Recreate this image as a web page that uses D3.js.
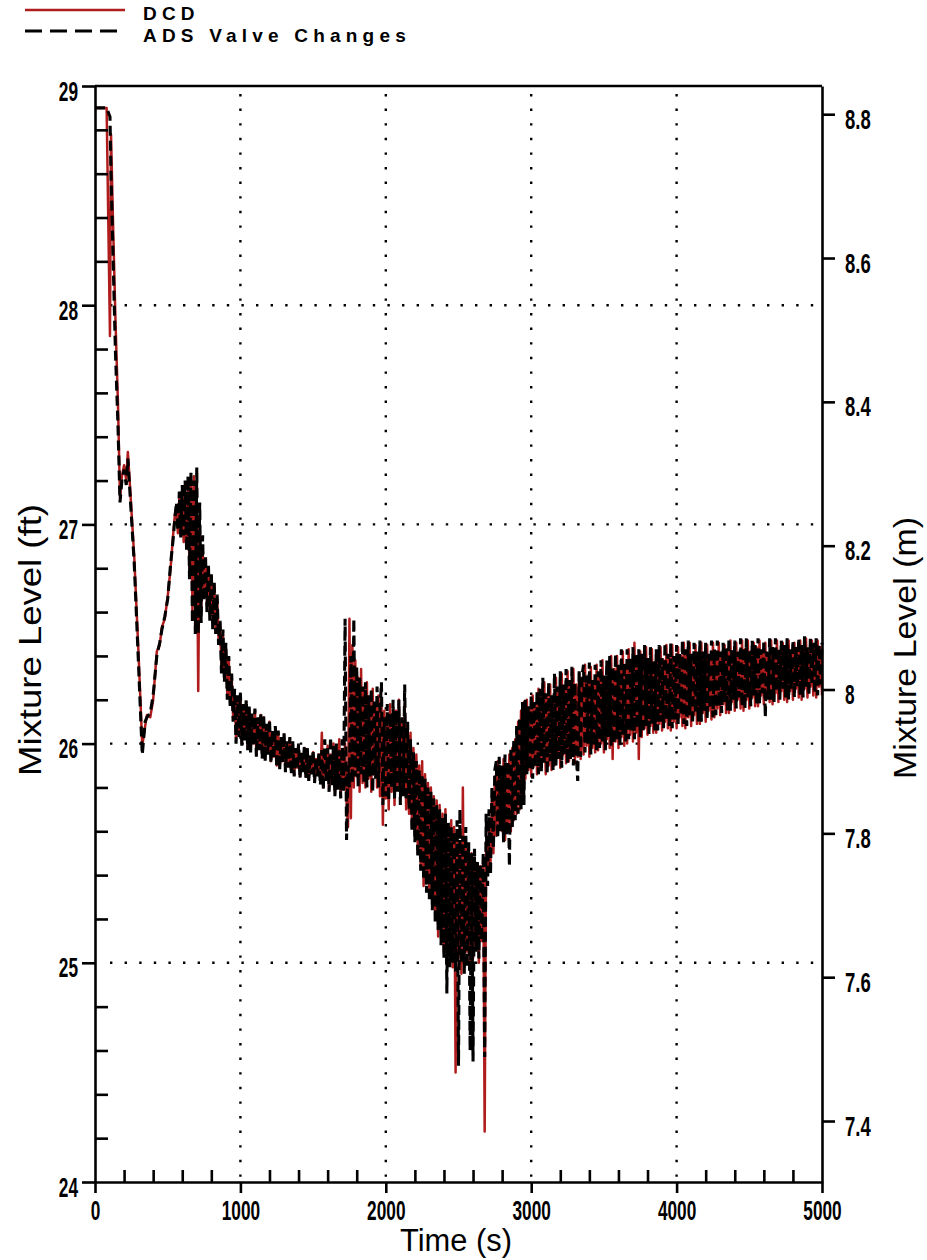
<!DOCTYPE html>
<html>
<head>
<meta charset="utf-8">
<script src="https://cdn.jsdelivr.net/npm/d3@7"></script>
<style>
  body { margin: 0; background: #fff; }
  svg { display: block; }
  .title { font-family: "Liberation Sans", Arial, sans-serif; font-size: 31px; fill: #000; }
  .legend { font-family: "Liberation Sans", Arial, sans-serif; font-weight: bold; font-size: 19px; letter-spacing: 5.2px; fill: #000; }
</style>
</head>
<body>
<div id="chart"></div>
<script>
// axis ticks
const ftMajor = [24, 25, 26, 27, 28, 29];
const ftMinor = [24.2, 24.4, 24.6, 24.8, 25.2, 25.4, 25.6, 25.8, 26.2, 26.4, 26.6, 26.8,
                 27.2, 27.4, 27.6, 27.8, 28.2, 28.4, 28.6, 28.8];
const mTicks = [7.4, 7.6, 7.8, 8, 8.2, 8.4, 8.6, 8.8];
const timeMajor = [0, 1000, 2000, 3000, 4000, 5000];
const timeMinor = [200, 400, 600, 800, 1200, 1400, 1600, 1800, 2200, 2400, 2600, 2800,
                   3200, 3400, 3600, 3800, 4200, 4400, 4600, 4800];
const gridTime = [1000, 2000, 3000, 4000];
const gridFt = [25, 26, 27, 28];

// early transient (s)
const earlyTime = [0, 80, 103, 110, 125, 140, 158, 172, 185, 200, 215, 226, 240, 270, 300,
                   325, 345, 357, 380, 400, 425, 445, 460, 480, 500, 520, 537, 550,
                   560, 570, 580, 590, 600, 610, 620, 630, 640, 650,
                   660, 670, 680, 690, 700, 710, 720, 730, 740, 750];
const dcdEarly = [28.9, 28.9, 27.86, 28.78, 28.35, 27.95, 27.55, 27.12, 27.22, 27.27, 27.2, 27.33, 27.18, 26.85, 26.4,
                  25.99, 26.08, 26.13, 26.12, 26.2, 26.42, 26.45, 26.53, 26.57, 26.67, 26.8, 26.95, 27.05,
                  27.08, 26.96, 27.12, 26.95, 27.15, 26.92, 27.14, 26.90, 27.18, 26.80,
                  27.20, 26.60, 27.22, 26.55, 27.10, 26.24, 27.00, 26.60, 26.90, 26.70];
const adsEarly = [28.9, 28.9, 28.86, 28.6, 28.2, 27.8, 27.45, 27.1, 27.2, 27.25, 27.18, 27.3, 27.15, 26.82, 26.35,
                  25.95, 26.1, 26.12, 26.14, 26.22, 26.4, 26.46, 26.52, 26.58, 26.66, 26.82, 26.93, 27.03,
                  27.10, 26.97, 27.15, 26.94, 27.18, 26.95, 27.20, 26.88, 27.22, 26.75,
                  27.24, 26.55, 27.20, 26.50, 27.26, 26.50, 27.10, 26.55, 26.95, 26.65];

// oscillating part, one value every 10 s from 760 s (each row = 100 s)
const noisyStart = 760, noisyStep = 10;
const dcdNoisy = [
  26.84, 26.64, 26.80, 26.60, 26.76, 26.55, 26.72, 26.52, 26.66, 26.48,
  26.55, 26.35, 26.50, 26.30, 26.44, 26.22, 26.38, 26.18, 26.30, 26.12,
  26.24, 26.02, 26.20, 26.05, 26.22, 26.00, 26.16, 26.03, 26.19, 25.98,
  26.16, 25.97, 26.12, 26.00, 26.15, 25.95, 26.10, 25.98, 26.13, 25.94,
  26.12, 25.93, 26.08, 25.96, 26.10, 25.92, 26.05, 25.94, 26.07, 25.90,
  26.05, 25.89, 26.02, 25.92, 26.04, 25.88, 26.00, 25.90, 26.02, 25.87,
  26.00, 25.86, 25.97, 25.89, 25.99, 25.85, 25.95, 25.88, 25.98, 25.85,
  25.97, 25.84, 25.94, 25.87, 25.96, 25.83, 25.93, 25.86, 25.95, 25.82,
  26.05, 25.80, 25.96, 25.84, 25.99, 25.79, 25.95, 25.82, 26.00, 25.77,
  25.98, 25.80, 26.02, 25.76, 25.96, 25.80, 26.00, 25.74, 25.62, 26.57,
  25.66, 26.45, 25.80, 26.38, 25.85, 26.30, 25.78, 26.34, 25.82, 26.25,
  25.80, 26.28, 25.84, 26.20, 25.78, 26.25, 25.86, 26.18, 25.80, 26.22,
  25.76, 26.20, 25.63, 26.15, 25.75, 26.10, 25.70, 26.18, 25.78, 26.12,
  25.72, 26.15, 25.80, 26.20, 25.74, 26.10, 25.78, 26.18, 25.70, 26.08,
  25.68, 26.05, 25.62, 25.98, 25.58, 25.95, 25.52, 25.90, 25.45, 25.92,
  25.35, 25.86, 25.40, 25.82, 25.30, 25.80, 25.28, 25.76, 25.22, 25.74,
  25.12, 25.72, 25.18, 25.68, 25.05, 25.70, 25.00, 25.62, 25.08, 25.65,
  24.98, 25.62, 24.50, 25.58, 25.02, 25.55, 24.95, 25.80, 25.00, 25.55,
  25.05, 25.52, 24.98, 25.50, 25.02, 25.48, 25.06, 25.45, 25.00, 25.44,
  25.10, 25.47, 24.23, 25.55, 25.40, 25.62, 25.45, 25.75, 25.50, 25.85,
  25.58, 25.92, 25.62, 25.88, 25.60, 25.93, 25.56, 25.90, 25.62, 25.95,
  25.60, 25.98, 25.65, 26.02, 25.68, 26.10, 25.70, 26.15, 25.74, 26.19,
  25.84, 26.20, 25.88, 26.16, 25.85, 26.22, 25.90, 26.18, 25.86, 26.25,
  25.88, 26.24, 25.92, 26.28, 25.86, 26.22, 25.90, 26.27, 25.88, 26.20,
  25.90, 26.30, 25.94, 26.25, 25.89, 26.32, 25.95, 26.26, 25.91, 26.33,
  25.92, 26.28, 25.96, 26.34, 25.91, 26.27, 25.94, 26.32, 25.93, 26.30,
  25.95, 26.36, 25.99, 26.30, 25.94, 26.35, 25.98, 26.28, 25.96, 26.36,
  25.97, 26.32, 26.00, 26.38, 25.96, 26.30, 26.02, 26.37, 25.98, 26.40,
  25.93, 26.34, 26.01, 26.40, 25.98, 26.35, 26.03, 26.42, 25.99, 26.36,
  26.00, 26.43, 26.04, 26.38, 26.01, 26.46, 26.05, 26.40, 25.93, 26.42,
  26.03, 26.40, 26.07, 26.44, 26.04, 26.38, 26.08, 26.43, 26.05, 26.37,
  26.05, 26.42, 26.09, 26.44, 26.06, 26.38, 26.10, 26.45, 26.07, 26.40,
  26.06, 26.45, 26.10, 26.39, 26.07, 26.44, 26.12, 26.40, 26.08, 26.46,
  26.07, 26.42, 26.12, 26.46, 26.08, 26.40, 26.13, 26.45, 26.09, 26.41,
  26.09, 26.46, 26.14, 26.41, 26.10, 26.45, 26.15, 26.40, 26.11, 26.46,
  26.12, 26.42, 26.16, 26.46, 26.13, 26.41, 26.18, 26.45, 26.14, 26.43,
  26.14, 26.47, 26.19, 26.42, 26.15, 26.46, 26.20, 26.41, 26.16, 26.47,
  26.15, 26.43, 26.20, 26.47, 26.16, 26.42, 26.21, 26.46, 26.17, 26.44,
  26.17, 26.47, 26.22, 26.42, 26.18, 26.46, 26.23, 26.41, 26.19, 26.47,
  26.18, 26.43, 26.23, 26.47, 26.19, 26.42, 26.24, 26.46, 26.20, 26.44,
  26.19, 26.47, 26.24, 26.42, 26.20, 26.46, 26.25, 26.43, 26.21, 26.47,
  26.20, 26.44, 26.25, 26.48, 26.21, 26.43, 26.26, 26.47, 26.22, 26.45,
  26.21, 26.47, 26.26, 26.44, 26.22
];
const adsNoisy = [
  26.86, 26.60, 26.82, 26.56, 26.78, 26.52, 26.74, 26.50, 26.68, 26.45,
  26.56, 26.32, 26.52, 26.28, 26.46, 26.20, 26.40, 26.16, 26.32, 26.10,
  26.25, 26.00, 26.22, 26.03, 26.23, 25.99, 26.18, 26.01, 26.20, 25.97,
  26.17, 25.96, 26.14, 25.99, 26.16, 25.94, 26.12, 25.97, 26.14, 25.93,
  26.13, 25.92, 26.09, 25.95, 26.11, 25.91, 26.06, 25.93, 26.08, 25.89,
  26.06, 25.88, 26.03, 25.91, 26.05, 25.87, 26.01, 25.89, 26.03, 25.86,
  26.01, 25.85, 25.98, 25.88, 26.00, 25.84, 25.96, 25.87, 25.99, 25.84,
  25.98, 25.83, 25.95, 25.86, 25.97, 25.82, 25.94, 25.85, 25.96, 25.81,
  25.97, 25.79, 26.02, 25.83, 25.98, 25.78, 26.03, 25.81, 25.99, 25.76,
  26.00, 25.79, 25.97, 25.75, 26.02, 25.78, 26.57, 25.56, 25.90, 25.80,
  26.40, 25.82, 26.57, 25.85, 26.35, 25.80, 26.30, 25.86, 26.26, 25.82,
  26.28, 25.80, 26.22, 25.85, 26.25, 25.78, 26.20, 25.84, 26.26, 25.80,
  26.15, 26.28, 25.72, 26.12, 25.76, 26.18, 25.74, 26.14, 25.80, 26.20,
  25.75, 26.15, 25.78, 26.20, 25.72, 26.12, 25.76, 26.27, 25.74, 26.10,
  25.70, 26.02, 25.60, 25.96, 25.55, 25.92, 25.48, 25.88, 25.42, 25.86,
  25.38, 25.84, 25.32, 25.80, 25.28, 25.78, 25.24, 25.75, 25.18, 25.72,
  25.15, 25.70, 25.08, 25.66, 25.02, 25.68, 24.86, 25.64, 24.98, 25.62,
  25.00, 25.60, 24.96, 25.65, 24.53, 25.70, 25.00, 25.58, 24.95, 25.62,
  24.98, 25.55, 24.60, 25.50, 24.55, 25.52, 25.05, 25.46, 25.02, 25.45,
  25.10, 25.50, 24.57, 25.68, 25.35, 25.70, 25.40, 25.80, 25.52, 25.88,
  25.92, 25.57, 25.94, 25.60, 25.90, 25.55, 25.95, 25.58, 25.92, 25.44,
  25.98, 25.62, 26.02, 25.65, 26.08, 25.68, 26.12, 25.70, 26.19, 25.72,
  26.20, 25.86, 26.17, 25.88, 26.22, 25.84, 26.19, 25.89, 26.24, 25.86,
  26.25, 25.87, 26.30, 25.91, 26.23, 25.86, 26.28, 25.92, 26.22, 25.88,
  26.32, 25.90, 26.26, 25.93, 26.33, 25.89, 26.27, 25.95, 26.34, 25.91,
  26.29, 25.93, 26.35, 25.90, 26.28, 25.95, 25.83, 26.33, 25.94, 26.31,
  26.36, 25.96, 26.31, 26.00, 26.37, 25.95, 26.29, 25.99, 26.36, 25.97,
  26.33, 25.98, 26.38, 26.01, 26.31, 25.97, 26.38, 26.03, 26.40, 25.99,
  26.35, 26.00, 26.41, 26.02, 26.36, 25.99, 26.43, 26.04, 26.37, 26.01,
  26.43, 26.02, 26.39, 26.06, 26.44, 26.02, 26.41, 26.07, 26.43, 26.03,
  26.41, 26.05, 26.45, 26.08, 26.39, 26.04, 26.44, 26.09, 26.38, 26.06,
  26.43, 26.06, 26.45, 26.10, 26.39, 26.07, 26.46, 26.11, 26.41, 26.08,
  26.46, 26.07, 26.40, 26.11, 26.45, 26.08, 26.41, 26.13, 26.47, 26.09,
  26.43, 26.08, 26.47, 26.13, 26.41, 26.09, 26.46, 26.14, 26.42, 26.10,
  26.47, 26.10, 26.42, 26.15, 26.46, 26.11, 26.41, 26.16, 26.47, 26.12,
  26.43, 26.13, 26.47, 26.17, 26.42, 26.14, 26.46, 26.19, 26.44, 26.15,
  26.48, 26.15, 26.43, 26.20, 26.47, 26.16, 26.42, 26.21, 26.48, 26.17,
  26.44, 26.16, 26.48, 26.21, 26.43, 26.17, 26.47, 26.22, 26.45, 26.18,
  26.48, 26.18, 26.43, 26.23, 26.47, 26.12, 26.42, 26.20, 26.48, 26.19,
  26.44, 26.19, 26.48, 26.24, 26.43, 26.20, 26.47, 26.25, 26.45, 26.21,
  26.48, 26.20, 26.43, 26.25, 26.47, 26.21, 26.44, 26.26, 26.48, 26.22,
  26.45, 26.21, 26.49, 26.26, 26.44, 26.22, 26.48, 26.27, 26.46, 26.23,
  26.48, 26.22, 26.45, 26.27, 26.46
];

const FT_TO_M = 0.3048;
const width = 927, height = 1260;

const x = d3.scaleLinear().domain([0, 5000]).range([95, 822]);
const y = d3.scaleLinear().domain([24, 29]).range([1182, 86]);
const yM = d3.scaleLinear().domain([24 * FT_TO_M, 29 * FT_TO_M]).range([1182, 86]);

function toPoints(early, noisy) {
    let pts = earlyTime.map((t, i) => ({ t: t, v: early[i] }));
    noisy.forEach((v, i) => pts.push({ t: noisyStart + i * noisyStep, v: v }));
    return pts;
}

// bold labels squeezed to the narrow look of the original
function narrowLabels(g) {
    g.selectAll(".tick text").each(function() {
        let s = this.textContent;
        if (!s) return;
        let digits = s.replace(/[^0-9]/g, "").length;
        let dots = s.length - digits;
        d3.select(this)
            .style("font-family", '"Liberation Sans", Arial, sans-serif')
            .style("font-weight", "bold")
            .style("font-size", "28px")
            .attr("fill", "#000")
            .attr("textLength", digits * 9.6 + dots * 6.5)
            .attr("lengthAdjust", "spacingAndGlyphs");
    });
}

let svg = d3.select("#chart").append("svg")
    .attr("width", width)
    .attr("height", height);

svg.append("rect").attr("width", width).attr("height", height).attr("fill", "#fff");

// dotted grid
svg.append("g").selectAll("line")
    .data(gridTime)
    .enter()
    .append("line")
    .attr("x1", d => x(d)).attr("x2", d => x(d))
    .attr("y1", y(29) + 8).attr("y2", y(24))
    .attr("stroke", "#000").attr("stroke-width", 2.4)
    .attr("stroke-dasharray", "2.4,12.2");

svg.append("g").selectAll("line")
    .data(gridFt)
    .enter()
    .append("line")
    .attr("x1", x(0) + 15).attr("x2", x(5000))
    .attr("y1", d => y(d)).attr("y2", d => y(d))
    .attr("stroke", "#000").attr("stroke-width", 2.4)
    .attr("stroke-dasharray", "2.4,12.2");

// data lines
let line = d3.line().x(d => x(d.t)).y(d => y(d.v));

svg.append("path")
    .datum(toPoints(dcdEarly, dcdNoisy))
    .attr("d", line)
    .attr("fill", "none")
    .attr("stroke", "#b01c1c")
    .attr("stroke-width", 2.5)
    .attr("stroke-linejoin", "round");

svg.append("path")
    .datum(toPoints(adsEarly, adsNoisy))
    .attr("d", line)
    .attr("fill", "none")
    .attr("stroke", "#000")
    .attr("stroke-width", 3.1)
    .attr("stroke-dasharray", "10,5");

// axes
function styleAxis(g) {
    g.selectAll(".domain").attr("stroke", "#000").attr("stroke-width", 2.6);
    g.selectAll(".tick line").attr("stroke", "#000").attr("stroke-width", 2.6);
}

svg.append("g")
    .attr("transform", `translate(${x(0)},0)`)
    .call(d3.axisLeft(y).tickValues(ftMajor).tickSize(13).tickSizeOuter(0).tickPadding(4)
        .tickFormat(d3.format("d")))
    .call(styleAxis)
    .call(narrowLabels)
    .call(g => g.selectAll(".tick text").attr("dy", "0.5em"));

svg.append("g")
    .attr("transform", `translate(${x(0)},0)`)
    .call(d3.axisRight(y).tickValues(ftMinor).tickSize(13).tickSizeOuter(0).tickFormat(""))
    .call(styleAxis)
    .call(g => g.select(".domain").remove());

svg.append("g")
    .attr("transform", `translate(0,${y(24)})`)
    .call(d3.axisBottom(x).tickValues(timeMajor).tickSize(11).tickSizeOuter(0).tickPadding(7)
        .tickFormat(d3.format("d")))
    .call(styleAxis)
    .call(narrowLabels);

svg.append("g")
    .attr("transform", `translate(0,${y(24)})`)
    .call(d3.axisTop(x).tickValues(timeMinor).tickSize(12).tickSizeOuter(0).tickFormat(""))
    .call(styleAxis)
    .call(g => g.select(".domain").remove());

svg.append("g")
    .attr("transform", `translate(${x(5000)},0)`)
    .call(d3.axisRight(yM).tickValues(mTicks).tickSize(13).tickSizeOuter(0).tickPadding(10)
        .tickFormat(d3.format("~g")))
    .call(styleAxis)
    .call(narrowLabels)
    .call(g => g.selectAll(".tick text").attr("dy", "0.5em"));

// top frame line
svg.append("line")
    .attr("x1", x(0)).attr("x2", x(5000))
    .attr("y1", y(29)).attr("y2", y(29))
    .attr("stroke", "#000").attr("stroke-width", 2.6);

// titles
svg.append("text")
    .attr("class", "title")
    .attr("transform", `translate(41,640) rotate(-90)`)
    .attr("text-anchor", "middle")
    .attr("textLength", 272).attr("lengthAdjust", "spacingAndGlyphs")
    .text("Mixture Level  (ft)");

svg.append("text")
    .attr("class", "title")
    .attr("transform", `translate(916,648) rotate(-90)`)
    .attr("text-anchor", "middle")
    .attr("textLength", 262).attr("lengthAdjust", "spacingAndGlyphs")
    .text("Mixture Level  (m)");

svg.append("text")
    .attr("class", "title")
    .attr("x", 456).attr("y", 1251)
    .attr("text-anchor", "middle")
    .attr("textLength", 112).attr("lengthAdjust", "spacingAndGlyphs")
    .text("Time  (s)");

// legend
let legend = svg.append("g");
legend.append("line")
    .attr("x1", 25).attr("x2", 125).attr("y1", 10).attr("y2", 10)
    .attr("stroke", "#b01c1c").attr("stroke-width", 2.6);
legend.append("text").attr("class", "legend").attr("x", 143).attr("y", 20).text("DCD");
legend.append("line")
    .attr("x1", 25).attr("x2", 125).attr("y1", 31).attr("y2", 31)
    .attr("stroke", "#000").attr("stroke-width", 3)
    .attr("stroke-dasharray", "17,8");
legend.append("text").attr("class", "legend").attr("x", 143).attr("y", 42).text("ADS Valve Changes");
</script>
</body>
</html>
